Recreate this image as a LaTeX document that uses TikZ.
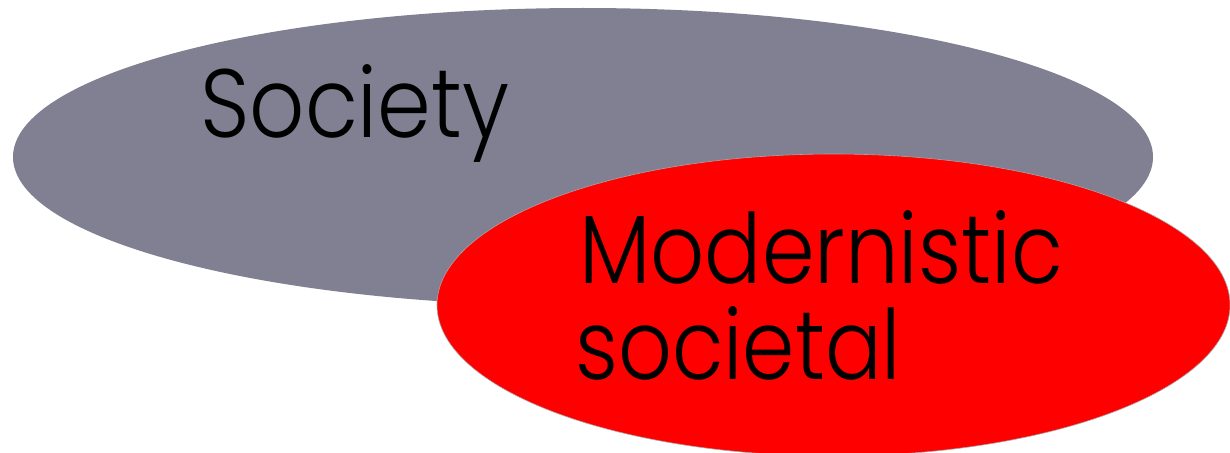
\documentclass[tikz,border=0pt]{standalone}
\usepackage{fontspec}
\IfFontExistsTF{Poppins Light}{\newfontfamily\lblfont{Poppins Light}}{\newfontfamily\lblfont{Poppins}}
\definecolor{socgray}{RGB}{128,128,146}
\definecolor{modred}{RGB}{255,0,0}
\newcommand{\squeezetext}[2]{\scalebox{#1}[1]{#2}}
\begin{document}
\begin{tikzpicture}[x=1pt,y=-1pt,
  lbl/.style={anchor=base west, inner sep=0pt, font=\lblfont\fontsize{97}{96}\selectfont}]
\useasboundingbox (0,0) rectangle (1230,452);
\fill[socgray] (583,157) ellipse [x radius=570, y radius=149];
\filldraw[fill=modred, draw=gray!70, line width=0.6pt] (833.5,305) ellipse [x radius=396.5, y radius=151];
\node[lbl] (soc) at (200,137) {\squeezetext{0.89}{Society}};
\node[lbl] (mod) at (579,283) {\squeezetext{0.873}{Modernistic}};
\node[lbl] (sct) at (575,379) {\squeezetext{0.867}{societal}};
\end{tikzpicture}
\end{document}
